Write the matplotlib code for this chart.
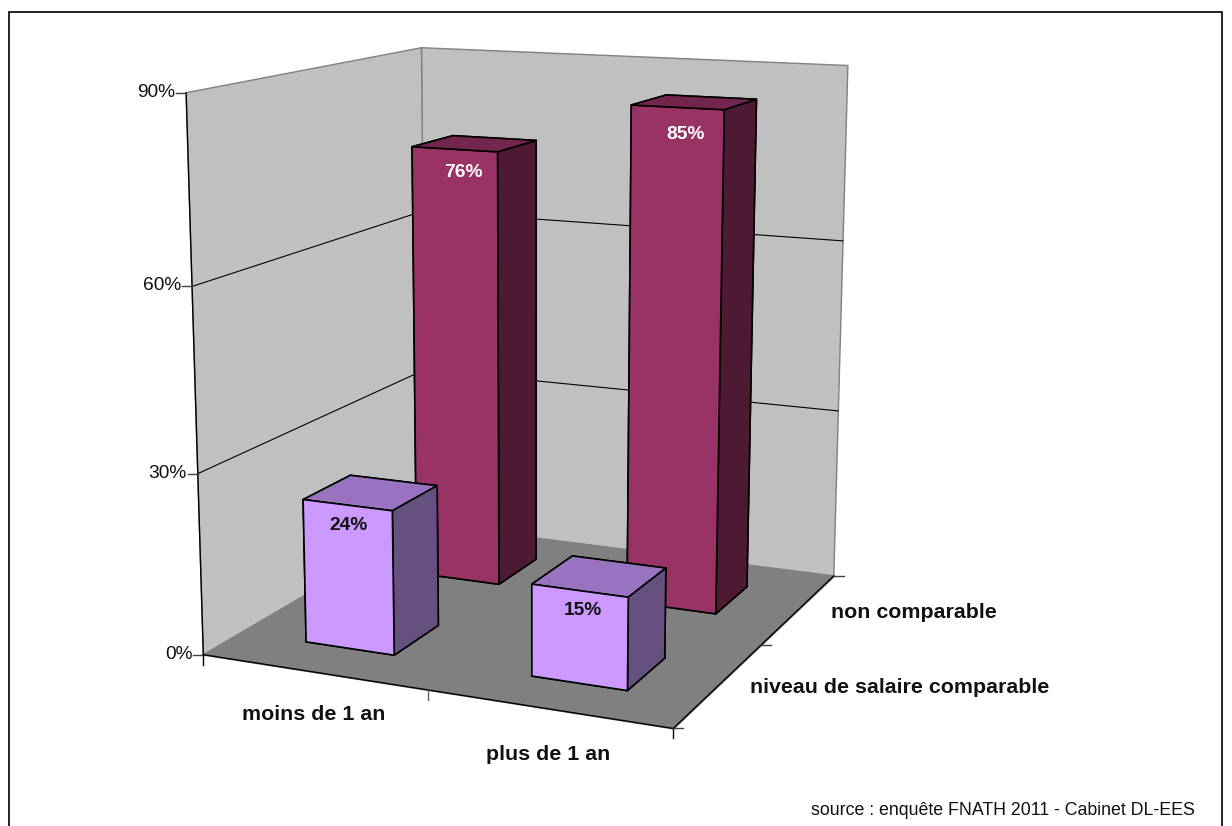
import matplotlib
matplotlib.use('Agg')
import matplotlib.pyplot as plt
from matplotlib.lines import Line2D
from matplotlib.patches import Rectangle
from matplotlib.transforms import IdentityTransform
from mpl_toolkits.mplot3d import proj3d
from mpl_toolkits.mplot3d.art3d import Poly3DCollection
import numpy as np

plt.rcParams['font.family'] = ['Liberation Sans', 'DejaVu Sans']

# data
durees = ['moins de 1 an', 'plus de 1 an']
salaires = ['niveau de salaire comparable', 'non comparable']
comparable = [24, 15]
non_comparable = [76, 85]
z_ticks = [0, 30, 60, 90]
source = 'source : enquête FNATH 2011 - Cabinet DL-EES'

W, H = 1232, 826
bar_size = 0.4  # gap width 150%

fig = plt.figure(figsize=(W/100, H/100), dpi=100, facecolor='white')
S = 856.29
ax = fig.add_axes([94.39/W, 33.96/H, S/W, S/H], projection='3d', computed_zorder=False)
ax.set_xlim(0, 2)
ax.set_ylim(0, 2)
ax.set_zlim(0, 90)
ax.view_init(elev=12.4004, azim=-66.2363)
ax.set_proj_type('persp', focal_length=0.5271)
ax.set_box_aspect((1, 1.0047, 1.1219))
ax.set_axis_off()
ax.patch.set_alpha(0)
ax.apply_aspect()

def to_px(x, y, z):
    xs, ys, _ = proj3d.proj_transform(x, y, z, ax.get_proj())
    return ax.transData.transform((xs, ys))

def seg(x0, y0, x1, y1, color='black', lw=1.0, zorder=1):
    fig.add_artist(Line2D([x0, x1], [y0, y1], transform=IdentityTransform(), color=color, lw=lw, zorder=zorder))

def txt(x, y, s, ha='center', **kw):
    return fig.text(x/W, 1-(y + 1.5)/H, s, ha=ha, va='center', **kw)

# walls and floor
walls = [[(0, 0, 0), (0, 2, 0), (0, 2, 90), (0, 0, 90)],
         [(0, 2, 0), (2, 2, 0), (2, 2, 90), (0, 2, 90)]]
ax.add_collection3d(Poly3DCollection(walls, facecolor='#C0C0C0', edgecolor='#808080', linewidth=1, zorder=1))
floor = [[(0, 0, 0), (2, 0, 0), (2, 2, 0), (0, 2, 0)]]
ax.add_collection3d(Poly3DCollection(floor, facecolor='#808080', edgecolor='#808080', linewidth=1, zorder=2))

# gridlines
for z in z_ticks[1:-1]:
    ax.plot([0, 0, 2], [0, 2, 2], [z, z, z], color='black', lw=0.8, zorder=3)

# axis lines of the floor and left edge
ax.plot([0, 0], [0, 0], [0, 90], color='black', lw=1, zorder=3)
ax.plot([0, 2, 2], [0, 0, 2], [0, 0, 0], color='black', lw=1, zorder=3)

# bars, back row first
back_faces = ['#4D1933', '#73264D', '#993366', '#993366', '#4D1933', '#4D1933']
front_faces = ['#665080', '#9973BF', '#CC99FF', '#CC99FF', '#665080', '#665080']
for row, (vals, faces) in enumerate(((non_comparable, back_faces), (comparable, front_faces))):
    y0 = 1 - row + (1 - bar_size)/2
    for i, v in enumerate(vals):
        ax.bar3d(i + (1 - bar_size)/2, y0, 0, bar_size, bar_size, v, color=faces, shade=False,
                 edgecolor='black', linewidth=1.2, zorder=4 + row*2 + i)

# ticks
for z in z_ticks:
    px, py = to_px(0, 0, z)
    seg(px - 10, py, px, py, color='#404040')
    txt(px - 11, H - py - 2, '%d%%' % z, ha='right', fontsize=13.8, color='#111111')
for x in range(3):
    px, py = to_px(x, 0, 0)
    seg(px, py, px, py - 10, color='#606060' if x == 1 else 'black')
for y in range(3):
    px, py = to_px(2, y, 0)
    seg(px, py, px + 10, py, color='#404040')

# category labels
label_font = dict(fontsize=15.4, fontweight='bold', color='#111111')
txt(314, 713, durees[0], **label_font)
txt(548, 753, durees[1], **label_font)
txt(914, 611, salaires[1], **label_font)
txt(900, 686, salaires[0], **label_font)

# value labels
value_font = dict(fontsize=13.8, fontweight='bold')
txt(349, 524, '%d%%' % comparable[0], color='#111111', **value_font)
txt(583, 609, '%d%%' % comparable[1], color='#111111', **value_font)
txt(463, 171, '%d%%' % non_comparable[0], color='white', **value_font)
txt(686, 133, '%d%%' % non_comparable[1], color='white', **value_font)

txt(1003, 809, source, fontsize=12.8, color='#111111')

# chart frame, cut by the bottom of the image
fig.add_artist(Rectangle((8.5, -10), 1213, H - 12 + 10, transform=IdentityTransform(),
                         fill=False, edgecolor='black', lw=1.2, zorder=0))

fig.savefig('out.png', dpi=100)
